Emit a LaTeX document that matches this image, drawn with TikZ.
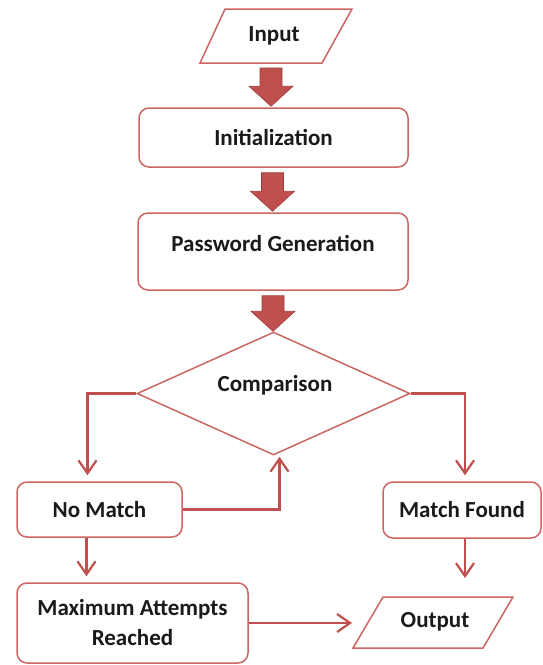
\documentclass[tikz,border=0pt]{standalone}
\usepackage{fontspec}
\setmainfont{Carlito}
\usetikzlibrary{arrows.meta,calc,shapes.geometric}
\definecolor{edge}{HTML}{C0504D}
\definecolor{boxline}{HTML}{CC6662}
\definecolor{arrowfill}{HTML}{C0504D}
\definecolor{arrowline}{HTML}{9E3B38}
\definecolor{ink}{HTML}{1A1A1A}

% block arrow from a start coordinate straight down to an end coordinate
\newcommand\blockarrow[2]{%
  \filldraw[flow] let \p1=(#1), \p2=(#2) in
    (\x1-11pt,\y1) -- (\x1+11pt,\y1) -- (\x1+11pt,\y2+20pt) --
    (\x1+22pt,\y2+20pt) -- (\x1,\y2) -- (\x1-22pt,\y2+20pt) --
    (\x1-11pt,\y2+20pt) -- cycle;}

\begin{document}
\begin{tikzpicture}[x=1pt,y=-1pt,
  font=\fontsize{23}{30}\selectfont\bfseries,
  box/.style={draw=boxline, line width=1.5pt, rounded corners=10pt, fill=white,
              text=ink, align=center, inner sep=2pt},
  para/.style={draw=boxline, line width=1.5pt, line join=miter, fill=white},
  lbl/.style={text=ink, align=center, inner sep=0pt},
  conn/.style={draw=edge, line width=2.2pt,
               -{Straight Barb[length=13pt,width=18pt]}},
  flow/.style={fill=arrowfill, draw=arrowline, line width=0.6pt}]
\useasboundingbox (0,0) rectangle (543,665);

% input
\draw[para] (200,63) -- (225,9) -- (352,9) -- (322,63) -- cycle;
\node[lbl] (inp) at (274,36) {Input};
\coordinate (inpB) at (271,63);

% process boxes
\node[box, minimum width=269pt, minimum height=59pt] (init) at (273.5,137.5) {Initialization};
\node[box, minimum width=270pt, minimum height=77pt] (pw) at (273,251.5) {};
\node[lbl] (pwlbl) at (273,243) {Password Generation};

% decision
\node[diamond, draw=boxline, line width=1.5pt, fill=white, inner sep=0pt,
      minimum width=273pt, minimum height=123pt] (cmp) at (273.5,393.5) {};
\node[lbl] (cmplbl) at (275,385) {Comparison};

\node[box, minimum width=165pt, minimum height=55pt] (nomatch) at (99.5,509.5) {No Match};
\node[box, minimum width=158pt, minimum height=56pt] (match) at (462,510) {Match Found};
\node[box, minimum width=231pt, minimum height=80pt] (max) at (132.5,623) {Maximum Attempts\\Reached};

% output
\draw[para] (353,648) -- (383,597) -- (513,597) -- (483,648) -- cycle;
\node[lbl] (outp) at (435,622) {Output};
\coordinate (outL) at (352,624);
\coordinate (outTop) at (465,597);

% block arrows between the stages
\coordinate (a1s) at ($(inpB)+(0,5)$);
\coordinate (a1e) at ($(init.north)+(0,-1)$);
\blockarrow{a1s}{a1e}
\coordinate (a2s) at ($(init.south)+(-1,5)$);
\coordinate (a2e) at ($(pw.north)+(0,-1)$);
\blockarrow{a2s}{a2e}
\coordinate (a3s) at ($(pw.south)+(0,5)$);
\coordinate (a3e) at (cmp.north);
\blockarrow{a3s}{a3e}

% connectors
\draw[conn] (cmp.west) -| ($(nomatch.north)+(-12,-6)$);
\draw[conn] (cmp.east) -| ($(match.north)+(3,-6)$);
\draw[conn] (nomatch.east) -| ($(cmp.south)+(6,1)$);
\coordinate (nmx) at ($(nomatch.south)+(-13,0)$);
\draw[conn] (nmx) -- ($(nmx |- max.north)+(0,-6)$);
\coordinate (mfx) at ($(match.south)+(3,0)$);
\draw[conn] (mfx) -- ($(outTop)+(0,-19)$);
\draw[conn] (max.east) -- (max.east -| outL);
\end{tikzpicture}
\end{document}
